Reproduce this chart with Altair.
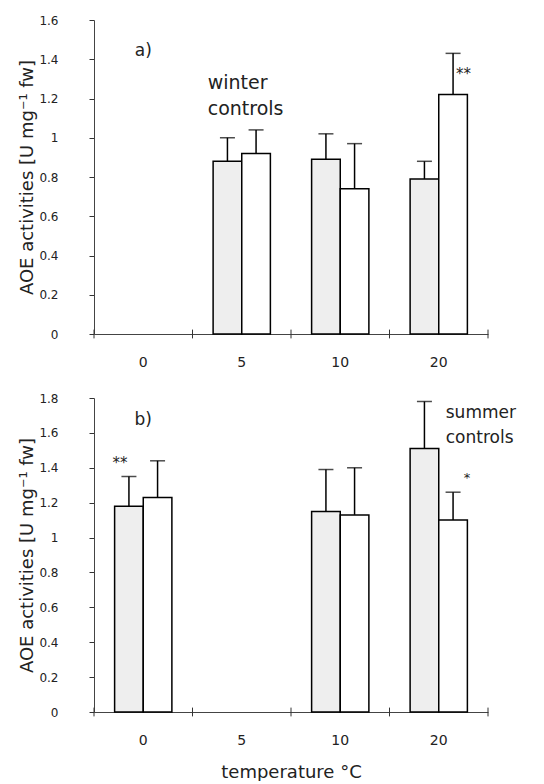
import altair as alt
import pandas as pd

# ---------------- data ----------------
temps = ["0", "5", "10", "20"]
series = ["grey", "white"]

a_grey = [None, 0.88, 0.89, 0.79]
a_grey_err = [None, 1.00, 1.02, 0.88]
a_white = [None, 0.92, 0.74, 1.22]
a_white_err = [None, 1.04, 0.97, 1.43]

b_grey = [1.18, None, 1.15, 1.51]
b_grey_err = [1.35, None, 1.39, 1.78]
b_white = [1.23, None, 1.13, 1.10]
b_white_err = [1.44, None, 1.40, 1.26]

a_ticks = [0, 0.2, 0.4, 0.6, 0.8, 1.0, 1.2, 1.4, 1.6]
b_ticks = [0, 0.2, 0.4, 0.6, 0.8, 1.0, 1.2, 1.4, 1.6, 1.8]

y_title = "AOE activities [U mg\u207b\u00b9  fw]"
x_title = "temperature \u00b0C"

FONT = "DejaVu Sans"
W, H = 394, 314


def make_df(grey, grey_err, white, white_err):
    rows = []
    for i, t in enumerate(temps):
        for s, v, e in (("grey", grey[i], grey_err[i]), ("white", white[i], white_err[i])):
            if v is not None:
                rows.append({"temp": t, "series": s, "value": v, "err": e})
    return pd.DataFrame(rows)


def panel(df, ymax, ticks, annots, show_xtitle):
    x_enc = alt.X(
        "temp:N",
        sort=temps,
        scale=alt.Scale(domain=temps, paddingInner=0, paddingOuter=0),
        axis=alt.Axis(
            title=x_title if show_xtitle else None,
            labelAngle=0,
            ticks=False,
            labelPadding=21,
            labelFontSize=14,
            labelColor="#222",
            domainColor="#444",
            domainWidth=1,
            titleFontSize=18,
            titleFontWeight="normal",
            titlePadding=16,
            titleColor="#222",
        ),
    )
    xo_enc = alt.XOffset(
        "series:N",
        sort=series,
        scale=alt.Scale(domain=series, paddingInner=0, paddingOuter=0.72),
    )
    y_enc = alt.Y(
        "value:Q",
        scale=alt.Scale(domain=[0, ymax], nice=False, zero=True),
        axis=alt.Axis(
            title=y_title,
            values=ticks,
            tickCount=len(ticks) + 5,
            format="~g",
            grid=False,
            ticks=True,
            tickSize=5,
            tickWidth=1,
            tickColor="#333",
            domainColor="#444",
            labelOverlap=False,
            labelFontSize=12,
            labelPadding=31,
            labelColor="#222",
            titleFontSize=18,
            titleFontWeight="normal",
            titlePadding=2,
            titleColor="#222",
        ),
    )

    base = alt.Chart(df)
    bars = base.mark_bar(stroke="black", strokeWidth=1.5).encode(
        x=x_enc,
        xOffset=xo_enc,
        y=y_enc,
        fill=alt.Fill(
            "series:N",
            scale=alt.Scale(domain=series, range=["#eeeeee", "#ffffff"]),
            legend=None,
        ),
    )
    stems = base.mark_rule(color="black", strokeWidth=1.5).encode(
        x=alt.X("temp:N", sort=temps), xOffset=alt.XOffset("series:N", sort=series),
        y="value:Q", y2="err:Q",
    )
    caps = base.mark_tick(color="black", thickness=1.5, size=15).encode(
        x=alt.X("temp:N", sort=temps), xOffset=alt.XOffset("series:N", sort=series),
        y="err:Q",
    )

    # boundary ticks on the category axis (crossing the axis line)
    bdf = pd.DataFrame({"temp": temps})
    half = ymax * 0.014
    bticks = alt.Chart(bdf).mark_rule(strokeWidth=1, color="#333").encode(
        x=alt.X("temp:N", sort=temps, bandPosition=0),
        y=alt.datum(-half), y2=alt.datum(half),
    )
    eticks = alt.Chart(bdf).transform_filter(
        alt.datum.temp == temps[-1]
    ).mark_rule(strokeWidth=1, color="#333").encode(
        x=alt.X("temp:N", sort=temps, bandPosition=1),
        y=alt.datum(-half), y2=alt.datum(half),
    )

    layers = [bars, stems, caps, bticks, eticks]
    for a in annots:
        adf = pd.DataFrame([{"temp": a["temp"], "series": a.get("series", "grey"),
                             "value": a["y"], "label": a["text"]}])
        enc = dict(x=alt.X("temp:N", sort=temps), y="value:Q", text="label:N")
        if "series" in a:
            enc["xOffset"] = alt.XOffset("series:N", sort=series)
        layers.append(
            alt.Chart(adf).mark_text(
                font=FONT, fontSize=a["size"], align=a["align"], baseline=a["baseline"],
                dx=a.get("dx", 0), lineBreak="\n", lineHeight=a.get("lh", 24), color="#222",
            ).encode(**enc)
        )
    return alt.layer(*layers).properties(width=W, height=H)


a_annots = [
    {"temp": "0", "y": 1.44, "text": "a)", "size": 17, "align": "center", "baseline": "middle"},
    {"temp": "5", "y": 1.25, "text": "winter\ncontrols", "size": 19, "align": "left",
     "baseline": "alphabetic", "dx": -34, "lh": 26},
    {"temp": "20", "series": "white", "y": 1.30, "text": "**", "size": 15, "align": "left",
     "baseline": "alphabetic", "dx": 3},
]
b_annots = [
    {"temp": "0", "y": 1.675, "text": "b)", "size": 17, "align": "center", "baseline": "middle"},
    {"temp": "0", "series": "grey", "y": 1.40, "text": "**", "size": 15, "align": "center",
     "baseline": "alphabetic", "dx": -9},
    {"temp": "20", "y": 1.687, "text": "summer\ncontrols", "size": 17, "align": "left",
     "baseline": "alphabetic", "dx": 7, "lh": 25},
    {"temp": "20", "series": "white", "y": 1.32, "text": "*", "size": 13, "align": "center",
     "baseline": "alphabetic", "dx": 14},
]

top = panel(make_df(a_grey, a_grey_err, a_white, a_white_err), 1.6, a_ticks, a_annots, False)
bottom = panel(make_df(b_grey, b_grey_err, b_white, b_white_err), 1.8, b_ticks, b_annots, True)

chart = alt.vconcat(top, bottom, spacing=23).properties(
    padding={"left": 18, "top": 14, "right": 5, "bottom": 0}
).configure(font=FONT).configure_view(stroke=None)

chart.save("out.html", embed_options={"renderer": "svg", "actions": False})
